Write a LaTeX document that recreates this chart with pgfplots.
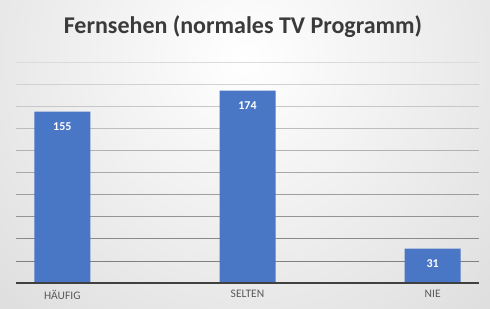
\documentclass[border=0pt]{standalone}
\usepackage{fontspec}
\setmainfont{Carlito}
\usepackage{pgfplots}
\pgfplotsset{compat=1.18}
\definecolor{barblue}{HTML}{4A76C6}
\definecolor{labgray}{HTML}{595959}
\definecolor{titlegray}{HTML}{3A3A3A}
\begin{document}
\begin{tikzpicture}
\begin{scope}
\clip (0,0) rectangle (490bp,309bp);
\shade[inner color=white, outer color=black!22] (245bp,250bp) circle (600bp);
\end{scope}
\useasboundingbox (0,0) rectangle (490bp,309bp);
\node[font=\fontsize{24bp}{28bp}\selectfont\bfseries, text=titlegray] at (243bp,282bp) {Fernsehen (normales TV Programm)};
\begin{axis}[
  scale only axis,
  width=463bp, height=221bp,
  at={(16bp,26bp)}, anchor=south west,
  xmin=-0.25, xmax=2.25,
  ymin=0, ymax=200,
  ybar, bar width=56bp,
  axis line style={draw=none},
  xtick=data,
  xticklabels={HÄUFIG, SELTEN, NIE},
  xticklabel style={font=\fontsize{11.5bp}{13bp}\selectfont, text=labgray, yshift=-4bp},
  major tick length=0pt,
  ytick=\empty,
  /pgf/number format/assume math mode=true,
  nodes near coords,
  every node near coord/.append style={anchor=north, yshift=-7bp, text=white, font=\fontsize{12bp}{14bp}\selectfont\bfseries},
  clip=false,
]
\draw[black!14, line width=0.8pt] (axis cs:-0.25,200) -- (axis cs:2.25,200);
\draw[black!18, line width=0.8pt] (axis cs:-0.25,180) -- (axis cs:2.25,180);
\draw[black!22, line width=0.8pt] (axis cs:-0.25,160) -- (axis cs:2.25,160);
\draw[black!26, line width=0.8pt] (axis cs:-0.25,140) -- (axis cs:2.25,140);
\draw[black!30, line width=0.8pt] (axis cs:-0.25,120) -- (axis cs:2.25,120);
\draw[black!34, line width=0.8pt] (axis cs:-0.25,100) -- (axis cs:2.25,100);
\draw[black!38, line width=0.8pt] (axis cs:-0.25,80) -- (axis cs:2.25,80);
\draw[black!42, line width=0.8pt] (axis cs:-0.25,60) -- (axis cs:2.25,60);
\draw[black!46, line width=0.8pt] (axis cs:-0.25,40) -- (axis cs:2.25,40);
\draw[black!50, line width=0.8pt] (axis cs:-0.25,20) -- (axis cs:2.25,20);
\addplot[fill=barblue, draw=none] coordinates {(0,155) (1,174) (2,31)};
\draw[black!75, line width=1.6pt] (axis cs:-0.25,0) -- (axis cs:2.25,0);
\end{axis}
\end{tikzpicture}
\end{document}
